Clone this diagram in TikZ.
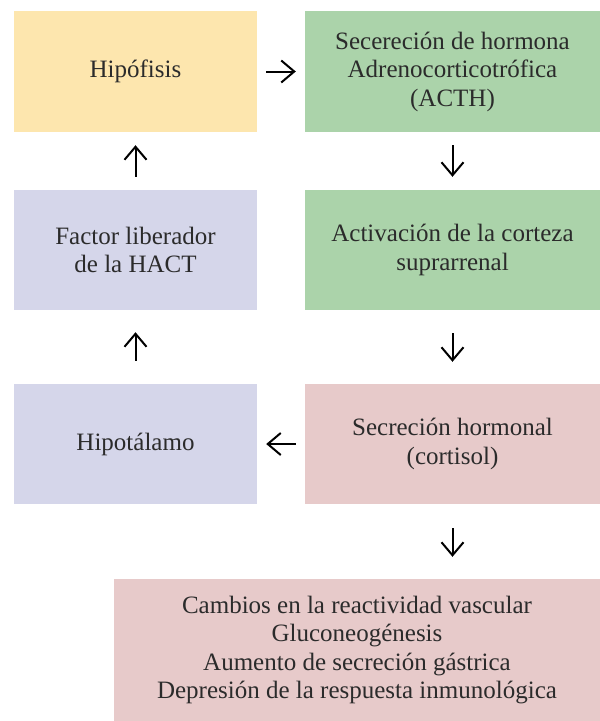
\documentclass[tikz,border=0pt]{standalone}
\usepackage{fontspec}
\setmainfont{Liberation Serif}
\usetikzlibrary{arrows.meta}
\definecolor{cyellow}{HTML}{FDE6AE}
\definecolor{cgreen}{HTML}{ABD3AA}
\definecolor{clav}{HTML}{D5D6EA}
\definecolor{cpink}{HTML}{E7CACA}
\definecolor{textgray}{HTML}{2B2B2B}
\begin{document}
\begin{tikzpicture}[x=1pt,y=-1pt,
  box/.style={fill=#1, draw=none, inner sep=0pt, align=center,
    font=\fontsize{25}{28.5}\selectfont, text=textgray},
  flow/.style={-{Straight Barb[length=13pt,width=22pt,line width=2pt]},
    line width=2pt, black}]
\useasboundingbox (0,0) rectangle (600,721);
\node[box=cyellow, minimum width=243pt, minimum height=121pt] (hip) at (135.5,71.5) {Hipófisis};
\node[box=cgreen, minimum width=295pt, minimum height=121pt] (acth) at (452.5,71.5)
  {Secereción de hormona\\Adrenocorticotrófica\\(ACTH)};
\node[box=clav, minimum width=243pt, minimum height=120pt] (fac) at (135.5,250) {Factor liberador\\de la HACT};
\node[box=cgreen, minimum width=295pt, minimum height=120pt] (act) at (452.5,250)
  {Activación de la corteza\\suprarrenal};
\node[box=clav, minimum width=243pt, minimum height=120pt] (hipo) at (135.5,444) {Hipotálamo};
\node[box=cpink, minimum width=295pt, minimum height=120pt] (sec) at (452.5,444)
  {Secreción hormonal\\(cortisol)};
\node[box=cpink, minimum width=486pt, minimum height=142pt] (cam) at (357,650)
  {Cambios en la reactividad vascular\\Gluconeogénesis\\Aumento de secreción gástrica\\Depresión de la respuesta inmunológica};
\draw[flow, shorten <=9pt, shorten >=9pt] (hip.east) -- (acth.west);
\draw[flow, shorten <=13pt, shorten >=13pt] (acth.south) -- (act.north);
\draw[flow, shorten <=13pt, shorten >=13pt] (fac.north) -- (hip.south);
\draw[flow, shorten <=23pt, shorten >=22pt] (act.south) -- (sec.north);
\draw[flow, shorten <=23pt, shorten >=22pt] (hipo.north) -- (fac.south);
\draw[flow, shorten <=9pt, shorten >=9pt] (sec.west) -- (hipo.east);
\draw[flow, shorten <=24pt, shorten >=22pt] (sec.south) -- (sec.south |- cam.north);
\end{tikzpicture}
\end{document}
